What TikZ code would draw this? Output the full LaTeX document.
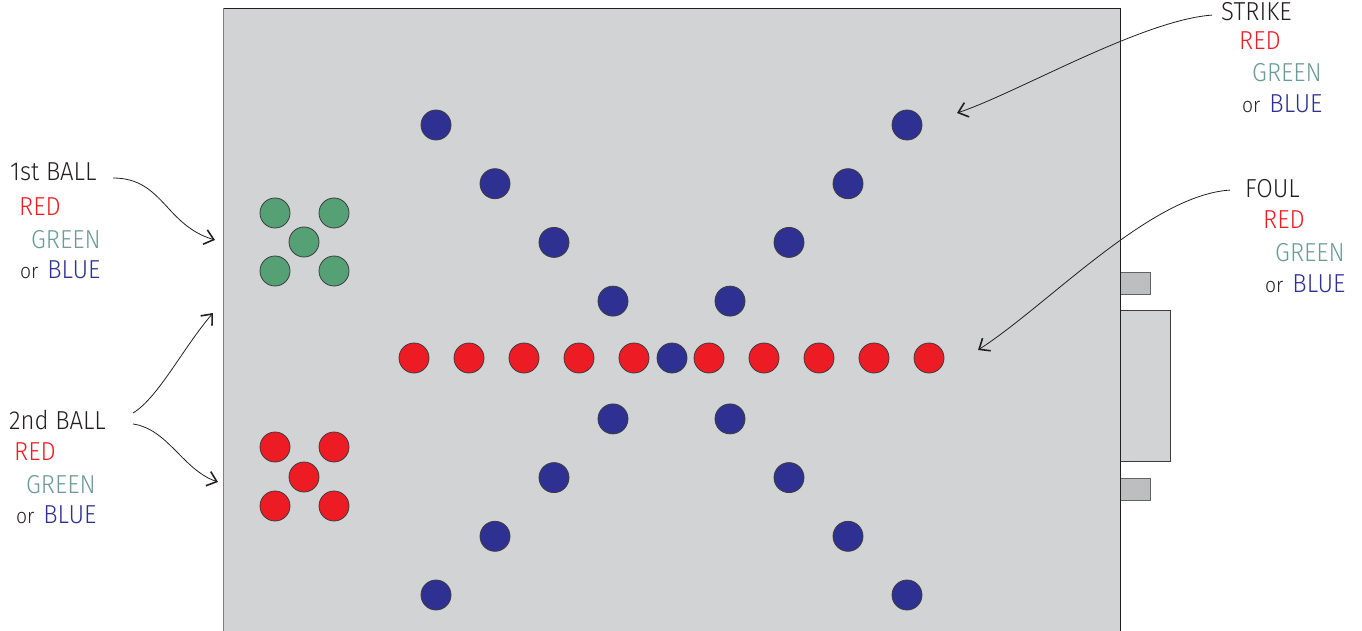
\documentclass[tikz,border=0pt]{standalone}
\usepackage{xcolor}
\usepackage{tikz}
\usepackage{fontspec}
\setmainfont{Fira Sans}[UprightFont=* Light, FakeStretch=0.92]
\usetikzlibrary{arrows.meta, positioning, calc}
\definecolor{boardgray}{RGB}{209, 211, 212}
\definecolor{pluggray}{RGB}{188, 190, 192}
\definecolor{ballred}{RGB}{237, 28, 36}
\definecolor{ballgreen}{RGB}{85, 161, 117}
\definecolor{ballblue}{RGB}{46, 49, 146}
\definecolor{textgreen}{RGB}{107, 155, 150}
\definecolor{ballrim}{RGB}{60, 60, 62}
\definecolor{ink}{RGB}{35, 31, 32}
\newcommand{\orblue}{{\fontsize{21}{24}\selectfont or}\hspace{9pt}\textcolor{ballblue}{BLUE}}

\begin{document}
\begin{tikzpicture}[x=1pt, y=-1pt,
    ball/.style={circle, draw=ballrim, line width=0.8pt, minimum size=30pt, inner sep=0pt},
    lbl/.style={anchor=base west, inner sep=0pt, font=\fontsize{26}{28}\selectfont, text=ink},
    callout/.style={draw=ink, line width=0.8pt,
        -{Straight Barb[length=9pt, width=15pt, line width=1.6pt]}}]
    \useasboundingbox (0,0) rectangle (1362,631);

    % plugs on the right side
    \draw[fill=pluggray, draw=ballrim!80, line width=0.8pt] (1120,272) rectangle (1150,294);
    \draw[fill=boardgray, draw=ballrim, line width=0.8pt] (1120,310) rectangle (1170,461);
    \draw[fill=pluggray, draw=ballrim!80, line width=0.8pt] (1120,478) rectangle (1150,500);

    % board
    \fill[boardgray] (223,8) rectangle (1120,631);
    \draw[ink, line width=0.8pt] (223,631) -- (223,8) -- (1120,8) -- (1120,631);
    \draw[gray, line width=1.6pt] (223.5,631) -- (223.5,8);

    % diagonal blue balls
    \foreach \i in {0,...,3} {
        \node[ball, fill=ballblue] (ul\i) at (436+59*\i, 125+58.7*\i) {};
        \node[ball, fill=ballblue] (ur\i) at (907-59*\i, 125+58.7*\i) {};
        \node[ball, fill=ballblue] (ll\i) at (436+59*\i, 595-58.7*\i) {};
        \node[ball, fill=ballblue] (lr\i) at (907-59*\i, 595-58.7*\i) {};
    }

    % foul line
    \foreach \i in {0,...,4} {
        \node[ball, fill=ballred] (fl\i) at (414+55*\i, 358) {};
        \node[ball, fill=ballred] (fr\i) at (709+55*\i, 358) {};
    }
    \node[ball, fill=ballblue] (fmid) at (672,358) {};

    % first and second ball clusters
    \foreach \p/\x/\y in {a/275/213, b/334/213, c/304/242, d/275/271, e/334/271} {
        \node[ball, fill=ballgreen] (first\p) at (\x,\y) {};
    }
    \foreach \p/\x/\y in {a/275/447, b/334/447, c/304/477, d/275/506, e/334/506} {
        \node[ball, fill=ballred] (second\p) at (\x,\y) {};
    }

    % labels
    \node[lbl] (firstlbl) at (10,181) {1st BALL};
    \node[lbl, text=ballred] (firstred) at (19,215) {RED};
    \node[lbl, text=textgreen] (firstgreen) at (31,248) {GREEN};
    \node[lbl] (firstblue) at (20,278) {\orblue};

    \node[lbl] (secondlbl) at (9,429) {2nd BALL};
    \node[lbl, text=ballred] (secondred) at (14,460) {RED};
    \node[lbl, text=textgreen] (secondgreen) at (26,493) {GREEN};
    \node[lbl] (secondblue) at (16,523) {\orblue};

    \node[lbl] (strikelbl) at (1221,21) {STRIKE};
    \node[lbl, text=ballred] (strikered) at (1239,50) {RED};
    \node[lbl, text=textgreen] (strikegreen) at (1252,82) {GREEN};
    \node[lbl] (strikeblue) at (1242,113) {\orblue};

    \node[lbl] (foullbl) at (1245,198) {FOUL};
    \node[lbl, text=ballred] (foulred) at (1263,228) {RED};
    \node[lbl, text=textgreen] (foulgreen) at (1275,261) {GREEN};
    \node[lbl] (foulblue) at (1265,292) {\orblue};

    % arrow targets
    \coordinate (firsttip) at (215,240);
    \coordinate (secondup) at (213,313);
    \coordinate (seconddown) at (218,482);
    \coordinate (striketip) at (957,113);
    \coordinate (foultip) at (978,350);

    % callouts
    \draw[callout] (113,178) .. controls +(50,0) and +(-50,-15) .. (firsttip);
    \draw[callout] (133,413) .. controls +(25,-15) and +(-30,35) .. (secondup);
    \draw[callout] (133,424) .. controls +(35,5) and +(-35,-12) .. (seconddown);
    \draw[callout] ([shift={(-9,3)}]strikelbl.west) .. controls +(-70,5) and +(60,-20) .. (striketip);
    \draw[callout] ([shift={(-15,1)}]foullbl.west) .. controls +(-80,5) and +(70,-45) .. (foultip);
\end{tikzpicture}
\end{document}
